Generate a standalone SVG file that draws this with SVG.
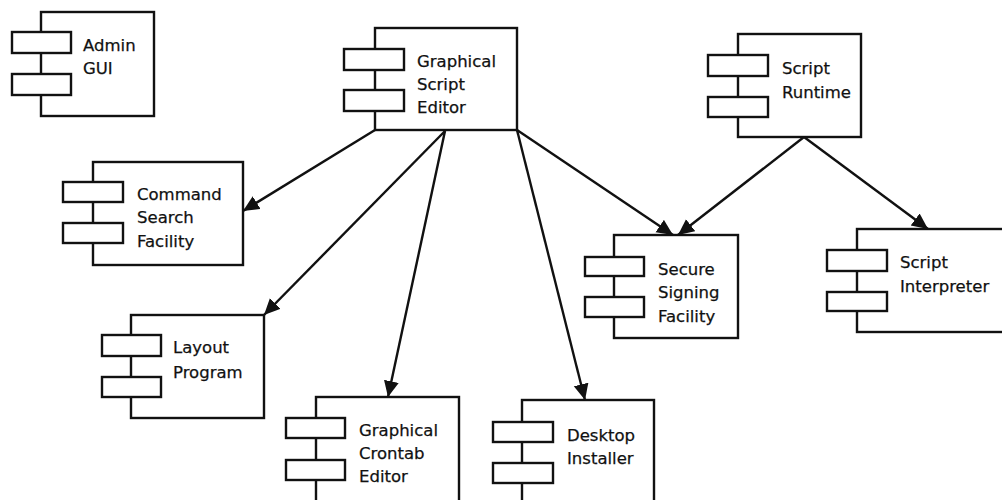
<svg xmlns="http://www.w3.org/2000/svg" width="1002" height="500" viewBox="0 0 1002 500">
<defs>
<style>
.box{fill:#fff;stroke:#111;stroke-width:2.4}
.port{fill:#fff;stroke:#111;stroke-width:2.4}
.lbl{font-family:"DejaVu Sans","Liberation Sans",sans-serif;font-size:16.5px;fill:#111;stroke:#111;stroke-width:0.25}
.edge{stroke:#111;stroke-width:2.4;fill:none;marker-end:url(#arr)}
</style>
<marker id="arr" markerUnits="userSpaceOnUse" markerWidth="17" markerHeight="16" refX="16" refY="7.5" orient="auto">
<path d="M0,0 L16,7.5 L0,15 z" fill="#111"/>
</marker>
</defs>
<rect width="1002" height="500" fill="#fff"/>

<g id="admin-gui">
<rect class="box" x="41" y="12" width="113" height="104"/>
<rect class="port" x="12" y="32" width="59" height="21"/>
<rect class="port" x="12" y="74" width="59" height="21"/>
<text class="lbl" x="83" y="51">Admin</text>
<text class="lbl" x="83" y="74">GUI</text>
</g>

<g id="graphical-script-editor">
<rect class="box" x="375" y="28" width="142" height="102"/>
<rect class="port" x="344" y="49" width="60" height="21"/>
<rect class="port" x="344" y="90" width="60" height="21"/>
<text class="lbl" x="417" y="67">Graphical</text>
<text class="lbl" x="417" y="90">Script</text>
<text class="lbl" x="417" y="113">Editor</text>
</g>

<g id="script-runtime">
<rect class="box" x="738" y="34" width="123" height="103"/>
<rect class="port" x="708" y="55" width="60" height="21"/>
<rect class="port" x="708" y="97" width="60" height="20"/>
<text class="lbl" x="782" y="74">Script</text>
<text class="lbl" x="782" y="98">Runtime</text>
</g>

<g id="command-search-facility">
<rect class="box" x="93" y="162" width="150" height="103"/>
<rect class="port" x="63" y="182" width="60" height="20"/>
<rect class="port" x="63" y="223" width="60" height="20"/>
<text class="lbl" x="137" y="200">Command</text>
<text class="lbl" x="137" y="223">Search</text>
<text class="lbl" x="137" y="247">Facility</text>
</g>

<g id="secure-signing-facility">
<rect class="box" x="614" y="235" width="124" height="103"/>
<rect class="port" x="585" y="257" width="59" height="19"/>
<rect class="port" x="585" y="297" width="59" height="20"/>
<text class="lbl" x="658" y="275">Secure</text>
<text class="lbl" x="658" y="298">Signing</text>
<text class="lbl" x="658" y="322">Facility</text>
</g>

<g id="script-interpreter">
<rect class="box" x="857" y="229" width="160" height="103"/>
<rect class="port" x="827" y="250" width="60" height="21"/>
<rect class="port" x="827" y="292" width="60" height="19"/>
<text class="lbl" x="900" y="268">Script</text>
<text class="lbl" x="900" y="292">Interpreter</text>
</g>

<g id="layout-program">
<rect class="box" x="131" y="315" width="133" height="103"/>
<rect class="port" x="102" y="335" width="59" height="21"/>
<rect class="port" x="102" y="377" width="59" height="20"/>
<text class="lbl" x="173" y="353">Layout</text>
<text class="lbl" x="173" y="378">Program</text>
</g>

<g id="graphical-crontab-editor">
<rect class="box" x="316" y="397" width="143" height="120"/>
<rect class="port" x="286" y="418" width="59" height="20"/>
<rect class="port" x="286" y="460" width="59" height="20"/>
<text class="lbl" x="359" y="436">Graphical</text>
<text class="lbl" x="359" y="459">Crontab</text>
<text class="lbl" x="359" y="482">Editor</text>
</g>

<g id="desktop-installer">
<rect class="box" x="522" y="400" width="132" height="120"/>
<rect class="port" x="493" y="422" width="60" height="20"/>
<rect class="port" x="493" y="463" width="60" height="20"/>
<text class="lbl" x="567" y="441">Desktop</text>
<text class="lbl" x="567" y="464">Installer</text>
</g>

<g id="connectors">
<line class="edge" x1="375" y1="130" x2="243" y2="211"/>
<line class="edge" x1="445" y1="131" x2="264" y2="315"/>
<line class="edge" x1="445" y1="131" x2="388" y2="397"/>
<line class="edge" x1="517" y1="130" x2="585" y2="400"/>
<line class="edge" x1="517" y1="130" x2="673" y2="235"/>
<line class="edge" x1="804" y1="137" x2="678" y2="235"/>
<line class="edge" x1="804" y1="137" x2="928" y2="229"/>
</g>
</svg>
